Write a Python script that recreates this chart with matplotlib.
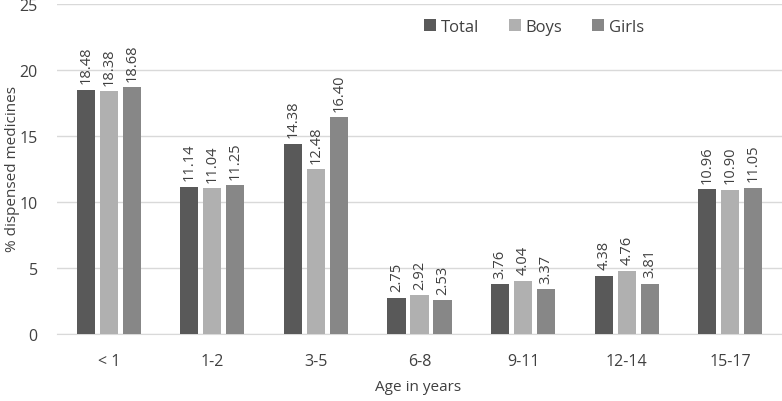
import matplotlib
matplotlib.use("Agg")
import matplotlib.pyplot as plt
import numpy as np

categories = ["< 1", "1-2", "3-5", "6-8", "9-11", "12-14", "15-17"]
total = [18.48, 11.14, 14.38, 2.75, 3.76, 4.38, 10.96]
boys = [18.38, 11.04, 12.48, 2.92, 4.04, 4.76, 10.90]
girls = [18.68, 11.25, 16.40, 2.53, 3.37, 3.81, 11.05]
series = [("Total", total, "#595959"), ("Boys", boys, "#b0b0b0"), ("Girls", girls, "#878787")]

plt.rcParams['font.family'] = ['Open Sans', 'DejaVu Sans']
fig = plt.figure(figsize=(7.82, 4.02), dpi=100)
ax = fig.add_axes([0.073, 0.167, 0.927, 0.821])

x = np.arange(len(categories))
w = 0.175
step = 0.222
for i, (name, vals, col) in enumerate(series):
    pos = x + (i - 1) * step
    ax.bar(pos, vals, width=w, color=col, label=name, zorder=3)
    for p, v in zip(pos, vals):
        ax.text(p, v + 0.5, f"{v:.2f}", rotation=90, ha="center", va="bottom",
                fontsize=10.5, color="#404040")

ax.set_xlim(-0.5, len(categories) - 0.5)
ax.set_ylim(0, 25)
ax.set_yticks(range(0, 26, 5))
ax.set_xticks(x)
ax.set_xticklabels(categories)
ax.grid(axis="y", color="#d9d9d9", linewidth=1, zorder=0)
for s in ["top", "right", "left"]:
    ax.spines[s].set_visible(False)
ax.spines["bottom"].set_color("#d9d9d9")
ax.tick_params(axis="both", length=0, labelsize=11.5, labelcolor="#404040")
ax.tick_params(axis="x", pad=14)
ax.tick_params(axis="y", pad=14)

fig.text(0.535, 0.037, "Age in years", ha="center", va="center", fontsize=11, color="#404040")
fig.text(0.016, 0.58, "% dispensed medicines", ha="center", va="center", rotation=90,
         fontsize=11, color="#404040")

ax.legend(loc="upper center", bbox_to_anchor=(0.658, 1.0), ncol=3, frameon=False,
          fontsize=12, handlelength=0.7, handleheight=0.7, columnspacing=1.8,
          handletextpad=0.3, labelcolor="#404040")

fig.savefig("out.png", dpi=100)
